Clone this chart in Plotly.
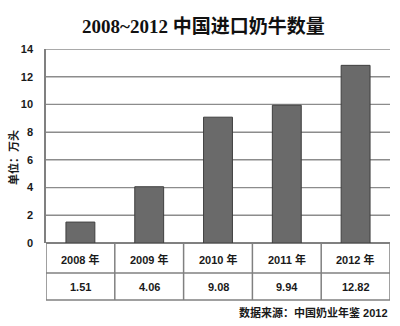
import plotly.graph_objects as go

years = ["2008 年", "2009 年", "2010 年", "2011 年", "2012 年"]
values = [1.51, 4.06, 9.08, 9.94, 12.82]
value_labels = ["1.51", "4.06", "9.08", "9.94", "12.82"]
y_ticks = [0, 2, 4, 6, 8, 10, 12, 14]

title_text = "2008~2012 中国进口奶牛数量"
y_title = "单位：万头"
source_text = "数据来源：中国奶业年鉴 2012"

W, H = 400, 326
ml, mr, mt, mb = 46, 10, 49, 83
plot_h = H - mt - mb
plot_w = W - ml - mr

def py(px_y):
    # page pixel y -> paper y
    return (H - mb - px_y) / plot_h

def px(px_x):
    return (px_x - ml) / plot_w

grid_col = "#808080"
sans = "Liberation Sans, Noto Sans CJK SC, sans-serif"
txt_col = "#1a1a1a"
n = len(years)

fig = go.Figure()
fig.add_trace(go.Bar(
    x=list(range(n)), y=values, width=0.42,
    marker=dict(color="#6a6a6a", line=dict(color="#3f3f3f", width=1)),
    hoverinfo="skip",
))

shapes = []
row0, row1, row2 = py(243), py(273), py(300)
for yy in [row1, row2]:
    shapes.append(dict(type="line", xref="x", yref="paper", x0=-0.5, x1=n - 0.5,
                       y0=yy, y1=yy, line=dict(color=grid_col, width=1.5)))
for i in range(n + 1):
    shapes.append(dict(type="line", xref="x", yref="paper", x0=i - 0.5, x1=i - 0.5,
                       y0=row0, y1=row2, line=dict(color=grid_col, width=1.5)))
# thin filled bands under the bars as gridlines
for t in y_ticks[1:]:
    shapes.append(dict(type="rect", xref="x", yref="y", x0=-0.5, x1=n - 0.5,
                       y0=t - 0.05, y1=t + 0.05, layer="below",
                       fillcolor="#8c8c8c", line=dict(width=0)))

annotations = []
for i, (yr, vl) in enumerate(zip(years, value_labels)):
    annotations.append(dict(x=i, y=py(259), xref="x", yref="paper", text="<b>" + yr + "</b>",
                            showarrow=False, font=dict(family=sans, size=11, color=txt_col),
                            xanchor="center", yanchor="middle"))
    annotations.append(dict(x=i, y=py(287), xref="x", yref="paper", text="<b>" + vl + "</b>",
                            showarrow=False, font=dict(family=sans, size=11, color=txt_col),
                            xanchor="center", yanchor="middle"))
annotations.append(dict(x=1, y=py(312), xref="paper", yref="paper", text="<b>" + source_text + "</b>",
                        showarrow=False, font=dict(family=sans, size=11, color=txt_col),
                        xanchor="right", yanchor="middle"))
annotations.append(dict(x=px(13), y=py(158), xref="paper", yref="paper",
                        text="<b>" + y_title + "</b>", textangle=-90, showarrow=False,
                        font=dict(family=sans, size=11, color=txt_col),
                        xanchor="center", yanchor="middle"))
annotations.append(dict(x=px(203), y=py(27), xref="paper", yref="paper",
                        text="<b>" + title_text + "</b>", showarrow=False,
                        font=dict(family="Liberation Serif, Noto Sans CJK SC, serif", size=19, color="#111"),
                        xanchor="center", yanchor="middle"))

fig.update_layout(
    width=W, height=H,
    margin=dict(l=ml, r=mr, t=mt, b=mb),
    paper_bgcolor="white", plot_bgcolor="rgba(0,0,0,0)",
    showlegend=False,
    shapes=shapes, annotations=annotations,
    xaxis=dict(range=[-0.5, n - 0.5], showticklabels=False, showgrid=False,
               zeroline=False, showline=False, ticks=""),
    yaxis=dict(range=[0, 14], tickvals=y_ticks, showgrid=True, gridcolor="#8c8c8c",
               gridwidth=1.3, zeroline=True, zerolinecolor=grid_col, zerolinewidth=1.5,
               showline=True, linecolor=grid_col,
               linewidth=1.5, ticks="", ticklabelstandoff=9,
               tickfont=dict(family=sans, size=11, color=txt_col, weight="bold")),
)

fig.write_html("out.html")
